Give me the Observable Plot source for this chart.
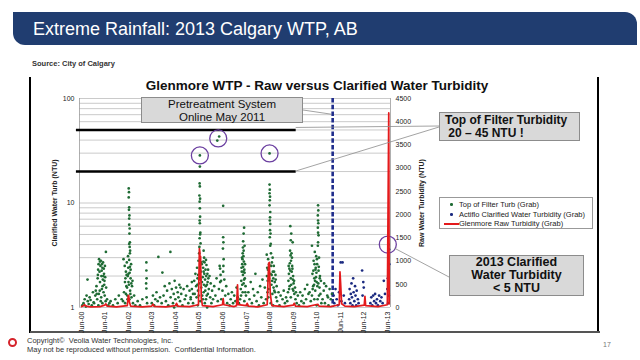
<!DOCTYPE html>
<html><head><meta charset="utf-8">
<script src="https://cdn.jsdelivr.net/npm/d3@7"></script>
<script src="https://cdn.jsdelivr.net/npm/@observablehq/plot@0.6"></script>
<style>
body{margin:0;background:#fff;font-family:"Liberation Sans",Arial,sans-serif;}
#slide{position:relative;width:640px;height:360px;overflow:hidden;background:#fff;}
.abs{position:absolute;}
#bar{left:13px;top:12px;width:624px;height:33px;background:#203d70;border-radius:0 12px 0 12px;}
#title{left:33px;top:16px;color:#fff;font-size:18px;line-height:26px;white-space:nowrap;}
#source{left:32px;top:59px;font-size:7.5px;font-weight:bold;color:#333;}
.frameV{width:2px;height:256px;top:77px;background:#000;}
#frameB{left:30px;top:331px;width:570px;height:1.5px;background:#555;}
#ctitle{left:101px;top:78px;width:432px;text-align:center;font-size:13.5px;font-weight:bold;color:#111;white-space:nowrap;}
.box{background:#d9d9d9;border:1px solid #8c8c8c;box-sizing:border-box;color:#111;}
#pre{left:141px;top:97px;width:162px;height:26px;font-size:11.5px;line-height:12.5px;text-align:center;padding-top:0px;}
#tof{left:439px;top:112px;width:141px;height:29px;font-size:12px;font-weight:bold;line-height:13px;padding:1px 0 0 5px;white-space:nowrap;}
#c13{left:449px;top:255px;width:135px;height:41px;font-size:12.5px;font-weight:bold;line-height:13.2px;text-align:center;padding-top:0px;}
#legend{left:439px;top:197px;width:154px;height:32px;background:#fff;border:1px solid #999;box-sizing:border-box;font-size:7.5px;color:#222;}
.lrow{position:absolute;left:19px;white-space:nowrap;}
.ldot{position:absolute;width:2.6px;height:2.6px;border-radius:50%;left:10px;}
#foot{left:27px;top:337px;font-size:7.5px;line-height:8.5px;color:#333;}
#page{left:603px;top:341px;font-size:7px;color:#777;}
#logo{left:8px;top:338px;width:5px;height:5px;border:2px solid #d5232b;border-radius:50%;}
.plotwrap{position:absolute;left:30px;top:77px;width:568px;height:256px;}
.plotwrap svg{overflow:visible;}
svg [aria-label="y-axis label"] text{font-weight:bold;}
</style>
</head><body>
<div id="slide">
  <div id="bar" class="abs"></div>
  <div id="title" class="abs">Extreme Rainfall: 2013 Calgary WTP, AB</div>
  <div id="source" class="abs">Source: City of Calgary</div>
  <div class="abs frameV" style="left:29px"></div>
  <div class="abs frameV" style="left:597px"></div>
  <div id="frameB" class="abs"></div>
  <div id="ctitle" class="abs">Glenmore WTP - Raw versus Clarified Water Turbidity</div>
  <div id="p1" class="plotwrap"></div>
  <div id="p2" class="plotwrap"></div>
  <svg id="ann" class="abs" style="left:0;top:0" width="640" height="360"></svg>
  <div id="pre" class="abs box">Pretreatment System<br>Online May 2011</div>
  <div id="tof" class="abs box">Top of Filter Turbidity<br>&nbsp;20 – 45 NTU !</div>
  <div id="legend" class="abs">
    <div class="ldot" style="top:5px;background:#1f6b34"></div><div class="lrow" style="top:1.5px">Top of Filter Turb (Grab)</div>
    <div class="ldot" style="top:15px;background:#1b2a80"></div><div class="lrow" style="top:11.5px">Actiflo Clarified Water Turbidity (Grab)</div>
    <div style="position:absolute;left:4px;top:25px;width:15px;height:1.6px;background:#e41a1c"></div><div class="lrow" style="top:21px">Glenmore Raw Turbidity (Grab)</div>
  </div>
  <div id="c13" class="abs box">2013 Clarified<br>Water Turbidity<br>&lt; 5 NTU</div>
  <div id="logo" class="abs"></div>
  <div id="foot" class="abs">Copyright©&nbsp; Veolia Water Technologies, Inc.<br>May not be reproduced without permission.&nbsp; Confidential Information.</div>
  <div id="page" class="abs">17</div>
</div>
<script>
// ---- data (decimal year, value) ----
const xTickLabels = ["Jun-00","Jun-01","Jun-02","Jun-03","Jun-04","Jun-05","Jun-06","Jun-07","Jun-08","Jun-09","Jun-10","Jun-11","Jun-12","Jun-13"];
const tickYears = [2000,2001,2002,2003,2004,2005,2006,2007,2008,2009,2010,2011,2012,2013];
const leftTicks = [1,10,100];
const gridTicks = [1,2,3,4,5,6,7,8,9,10,20,30,40,50,60,70,80,90,100];
const rightTicks = [0,500,1000,1500,2000,2500,3000,3500,4000,4500];
const filterBand = [20,50];
const pretreatStart = 2011.08;

const topOfFilter = [
 [2000.45,1.05],[2000.5,1.1],[2000.55,1.2],[2000.6,1.02],[2000.63,1.3],[2000.67,1.85],[2000.68,1.15],[2000.72,1.08],[2000.76,1.25],[2000.8,1.18],[2000.85,1.05],[2000.9,1.4],[2000.93,1.12],
 [2000.95,1.1],[2001.0,1.3],[2001.02,1.45],[2001.05,1.6],[2001.08,1.2],[2001.1,1.9],[2001.12,2.3],[2001.14,2.6],[2001.15,1.35],[2001.16,2.9],[2001.18,2.2],[2001.2,1.75],[2001.2,2.75],[2001.22,2.5],[2001.24,2.8],[2001.25,1.25],[2001.26,2.0],[2001.28,1.5],[2001.28,2.6],[2001.3,2.4],[2001.3,1.1],[2001.32,1.85],[2001.33,2.7],[2001.35,1.4],[2001.36,2.35],[2001.37,2.1],[2001.38,1.65],[2001.4,1.3],[2001.42,1.95],[2001.44,1.15],[2001.45,3.4],[2001.46,1.55],[2001.5,1.2],[2001.55,1.05],[2001.6,1.1],
 [2001.11,2.05],[2001.19,1.45],[2001.23,1.15],[2001.27,2.25],[2001.31,1.6],[2001.34,2.0],[2001.39,1.8],[2001.41,2.5],[2001.13,1.05],[2001.06,1.35],
 [2001.65,1.15],[2001.75,1.05],[2001.85,1.2],[2001.95,1.1],[2002.0,1.3],
 [2002.42,13.8],[2002.43,12.7],[2002.42,11.3],[2002.44,9.1],[2002.43,8.6],[2002.45,7.6],[2002.44,7.1],[2002.44,6.2],[2002.46,5.7],[2002.45,5.1],[2002.47,4.2],[2002.44,4.05],[2002.46,3.8],[2002.48,3.5],[2002.47,3.3],
 [2002.2,2.9],[2002.25,2.5],[2002.28,1.9],[2002.3,2.2],[2002.32,1.6],[2002.34,2.7],[2002.36,1.3],[2002.38,2.0],[2002.39,3.1],[2002.4,2.4],[2002.41,1.75],[2002.44,2.85],[2002.46,2.15],[2002.48,1.45],[2002.5,1.9],[2002.5,2.3],[2002.52,2.6],[2002.54,1.25],[2002.56,1.6],[2002.58,1.8],[2002.18,1.15],[2002.22,1.4],[2002.27,1.1],[2002.3,1.35],[2002.35,1.55],[2002.45,1.2],[2002.6,1.1],[2002.65,1.3],[2002.7,1.05],[2002.12,1.2],
 [2002.41,2.1],[2002.43,1.65],[2002.47,2.45],[2002.33,2.05],[2002.37,1.2],[2002.49,1.35],[2002.53,1.7],[2002.26,1.75],
 [2002.8,1.15],[2002.9,1.05],[2003.0,1.2],
 [2003.17,2.7],[2003.17,2.26],[2003.18,1.9],[2003.16,1.7],[2003.17,1.52],[2003.18,1.25],[2003.2,1.1],
 [2003.4,1.1],[2003.45,1.3],[2003.5,1.05],[2003.55,1.2],[2003.6,1.4],[2003.65,1.15],[2003.68,3.05],[2003.75,1.25],[2003.85,2.16],[2003.82,1.1],
 [2003.9,1.3],[2003.95,1.6],[2004.0,1.15],[2004.05,1.45],[2004.1,1.05],[2004.15,1.7],[2004.19,3.4],[2004.2,1.25],[2004.25,1.5],[2004.3,1.1],[2004.33,1.35],[2004.35,1.0],[2004.37,1.8],[2004.4,1.2],[2004.43,1.55],[2004.47,1.05],[2004.5,1.4],[2004.53,1.25],[2004.57,1.65],[2004.6,1.15],[2004.62,1.55],[2004.65,1.35],[2004.7,1.05],[2004.75,1.5],[2004.8,1.2],[2004.85,1.3],[2004.9,1.6],[2004.95,1.1],[2005.0,1.45],[2005.05,1.25],[2005.1,1.75],[2005.15,1.35],
 [2005.44,28.5],[2005.44,22.3],[2005.43,15.4],[2005.44,14.4],[2005.42,11.8],[2005.45,11.0],[2005.43,10.3],[2005.44,8.9],[2005.45,7.4],[2005.43,6.8],[2005.44,6.4],[2005.46,5.2],[2005.45,5.0],[2005.43,4.6],[2005.47,4.1],[2005.42,3.8],
 [2005.05,1.2],[2005.1,1.5],[2005.15,1.1],[2005.2,1.8],[2005.22,1.35],[2005.25,2.1],[2005.28,1.6],[2005.3,1.25],[2005.32,2.4],[2005.34,1.9],[2005.35,1.05],[2005.36,1.45],[2005.38,2.8],[2005.4,1.7],[2005.41,3.3],[2005.46,1.15],[2005.48,2.2],[2005.5,1.55],[2005.52,2.6],[2005.54,1.3],[2005.56,1.95],[2005.58,2.4],[2005.6,1.4],[2005.6,2.2],[2005.6,3.5],[2005.62,3.0],[2005.64,2.7],[2005.65,1.1],[2005.66,1.85],[2005.68,2.3],[2005.7,1.2],[2005.7,2.85],[2005.72,2.55],[2005.74,1.65],[2005.75,1.0],[2005.76,2.1],[2005.78,1.35],[2005.8,1.9],[2005.82,1.5],[2005.85,2.0],[2005.88,1.25],[2005.9,1.7],[2005.93,1.1],[2005.96,1.45],[2006.0,1.2],
 [2005.33,1.65],[2005.37,2.05],[2005.39,1.3],[2005.47,1.85],[2005.49,2.7],[2005.53,1.75],[2005.57,1.2],[2005.59,2.75],[2005.61,1.65],[2005.63,2.1],[2005.67,1.45],[2005.69,1.6],[2005.71,2.0],[2005.73,1.3],[2005.77,1.75],[2005.79,2.3],
 [2006.18,39.6],[2006.26,43.3],
 [2006.43,9.4],[2006.43,4.7],[2006.44,4.2],[2006.42,3.66],[2006.45,2.9],[2006.44,2.5],[2006.43,2.2],
 [2006.28,2.5],[2006.3,2.36],[2006.32,2.05],[2006.34,1.8],
 [2006.05,1.6],[2006.1,1.3],[2006.15,1.9],[2006.2,1.15],[2006.25,1.5],[2006.3,1.75],[2006.35,1.2],[2006.4,1.45],[2006.48,1.85],[2006.52,1.3],[2006.56,1.6],[2006.6,1.1],[2006.65,1.35],[2006.7,1.05],
 [2006.75,1.2],[2006.8,1.4],[2006.85,1.1],[2006.9,1.3],[2006.95,1.15],[2007.0,1.55],[2007.05,1.25],
 [2007.32,5.8],[2007.3,5.1],[2007.28,4.3],[2007.27,3.75],[2007.3,3.5],[2007.26,3.3],[2007.29,3.1],[2007.25,2.9],[2007.31,2.75],[2007.24,2.6],[2007.28,2.45],[2007.33,2.3],[2007.22,2.2],[2007.27,2.05],[2007.35,1.9],[2007.2,1.8],[2007.3,1.7],[2007.38,1.6],[2007.18,1.5],[2007.26,1.4],[2007.4,1.3],[2007.15,1.2],[2007.33,1.15],[2007.45,1.05],[2007.1,1.1],[2007.36,2.6],[2007.23,3.0],[2007.34,3.9],
 [2007.21,2.4],[2007.24,1.65],[2007.29,2.2],[2007.32,1.85],[2007.34,2.15],[2007.37,1.4],[2007.19,1.3],
 [2007.5,1.4],[2007.55,1.2],[2007.6,1.75],[2007.65,1.1],[2007.7,1.5],[2007.75,1.3],[2007.8,2.1],[2007.85,1.15],[2007.9,1.4],[2007.95,1.05],[2008.0,1.6],[2008.05,1.25],[2008.1,1.85],
 [2008.4,29.8],
 [2008.4,15.0],[2008.41,13.4],[2008.4,12.4],[2008.42,11.5],[2008.41,10.6],[2008.4,9.5],[2008.43,8.2],[2008.42,7.3],[2008.41,6.8],[2008.43,6.3],[2008.42,5.5],[2008.44,5.1],[2008.41,4.7],[2008.45,4.07],[2008.43,3.9],
 [2008.28,3.2],[2008.3,2.4],[2008.32,1.8],[2008.34,2.9],[2008.36,1.5],[2008.38,2.6],[2008.44,2.1],[2008.46,3.3],[2008.48,1.65],[2008.5,2.7],[2008.52,1.35],[2008.54,2.2],[2008.56,1.9],[2008.58,2.5],[2008.6,1.45],[2008.62,1.75],[2008.65,2.05],[2008.68,1.25],[2008.7,1.6],[2008.25,1.2],[2008.2,1.55],[2008.15,1.1],[2008.72,1.15],[2008.78,1.4],[2008.82,1.05],[2008.87,1.3],[2008.45,1.1],[2008.35,1.25],[2008.55,1.05],
 [2008.29,2.0],[2008.33,2.3],[2008.37,1.9],[2008.47,2.5],[2008.49,2.05],[2008.51,1.8],[2008.53,3.0],[2008.57,1.55],[2008.59,2.2],[2008.63,1.4],[2008.66,1.85],[2008.31,1.4],
 [2009.28,6.0],[2009.32,5.1],[2009.3,4.4],[2009.38,4.2],[2009.27,3.5],[2009.33,3.3],[2009.29,3.15],[2009.35,3.0],[2009.31,2.8],[2009.26,2.65],[2009.36,2.5],[2009.24,2.35],[2009.34,2.2],[2009.22,2.1],[2009.4,2.0],[2009.3,1.9],[2009.2,1.8],[2009.42,1.7],[2009.25,1.6],[2009.38,1.5],[2009.18,1.4],[2009.45,1.35],[2009.3,1.25],[2009.5,1.2],[2009.15,1.15],[2009.55,1.1],[2009.6,1.3],[2009.65,1.05],[2009.7,1.4],[2009.75,1.15],[2009.1,1.25],[2009.05,1.1],[2009.0,1.45],[2008.95,1.2],
 [2009.21,2.5],[2009.23,1.5],[2009.28,2.25],[2009.32,1.65],[2009.37,2.35],[2009.39,1.85],[2009.41,1.45],[2009.44,1.8],[2009.48,1.55],[2009.52,1.4],
 [2009.8,1.3],[2009.85,1.1],[2009.9,1.5],[2009.95,1.2],[2010.0,1.65],[2010.05,1.35],
 [2010.46,9.5],[2010.47,8.5],[2010.45,7.6],[2010.46,6.8],[2010.47,6.4],[2010.45,5.8],[2010.46,5.2],[2010.48,4.9],[2010.46,4.2],[2010.45,3.9],[2010.2,3.9],
 [2010.2,1.3],[2010.22,2.1],[2010.25,1.6],[2010.27,2.8],[2010.3,1.9],[2010.32,3.4],[2010.34,1.45],[2010.35,2.3],[2010.36,2.4],[2010.38,3.1],[2010.4,1.75],[2010.42,2.6],[2010.44,1.2],[2010.48,2.25],[2010.5,3.0],[2010.52,1.55],[2010.54,2.0],[2010.56,1.35],[2010.58,1.8],[2010.6,1.1],[2010.15,1.15],[2010.1,1.4],[2010.4,1.05],[2010.3,1.2],[2010.5,1.3],
 [2010.23,1.5],[2010.26,2.25],[2010.29,1.65],[2010.31,2.6],[2010.33,1.8],[2010.37,1.95],[2010.39,2.15],[2010.41,2.9],[2010.43,1.6],[2010.47,1.7],[2010.49,2.45],[2010.53,1.9],
 [2010.65,1.2],[2010.7,1.45],[2010.72,1.7],[2010.75,1.1],[2010.8,1.6],[2010.85,1.3],[2010.88,1.25],[2010.9,1.05],[2010.95,1.5],[2011.0,1.2],[2011.05,1.35]
];

const actiflo = [
 [2011.12,1.3],[2011.15,1.1],[2011.2,1.5],[2011.25,1.2],[2011.3,1.05],[2011.35,1.4],[2011.42,2.7],[2011.5,2.7],[2011.45,1.15],[2011.55,1.3],[2011.6,1.1],
 [2011.78,1.2],[2011.8,1.5],[2011.83,1.1],[2011.85,1.35],[2011.88,1.7],[2011.9,1.25],[2011.92,1.05],[2011.95,1.9],[2011.97,1.4],[2012.0,1.15],[2012.03,1.6],[2012.05,1.3],[2012.08,1.05],[2012.1,1.45],[2012.15,1.2],[2012.18,1.1],
 [2012.33,2.26],[2012.38,1.75],[2012.4,1.55],[2012.35,1.3],
 [2012.68,1.1],[2012.72,1.25],[2012.76,1.05],[2012.8,1.3],[2012.84,1.15],[2012.88,1.35],[2012.92,1.1],[2012.96,1.2],[2013.0,1.05],[2013.05,1.3],[2013.1,1.15],[2013.15,1.25],[2013.2,1.1],[2013.25,1.8],[2013.3,1.35],
 [2013.4,1.5],[2013.42,1.9],[2013.44,2.3],[2013.46,1.3],[2013.48,2.6],[2013.45,4.0],[2013.47,3.6],[2013.43,1.1]
];

const raw = [
 [2000.42,20],[2000.5,40],[2000.55,60],[2000.6,30],[2000.8,15],[2001.2,20],[2001.4,50],[2001.45,80],[2001.5,30],[2001.9,15],
 [2002.36,40],[2002.4,250],[2002.42,260],[2002.45,120],[2002.5,30],[2003.0,15],[2003.4,30],[2003.45,70],[2003.5,25],[2004.0,15],
 [2004.4,40],[2004.45,90],[2004.5,30],[2005.0,20],[2005.38,60],[2005.42,1270],[2005.44,1200],[2005.455,600],[2005.47,1100],[2005.5,200],[2005.55,40],
 [2006.0,20],[2006.4,60],[2006.43,190],[2006.46,60],[2006.9,20],[2007.0,40],[2007.04,490],[2007.07,60],[2007.4,40],[2007.45,90],[2007.5,30],[2007.9,15],
 [2008.3,60],[2008.36,950],[2008.39,970],[2008.43,300],[2008.5,40],[2009.0,20],[2009.4,50],[2009.45,90],[2009.5,30],[2010.0,20],[2010.45,70],[2010.5,30],
 [2011.0,20],[2011.36,60],[2011.39,770],[2011.42,500],[2011.46,80],[2011.6,30],[2012.0,20],[2012.42,50],[2012.45,240],[2012.48,40],
 [2013.0,20],[2013.4,60],[2013.46,4190],[2013.48,80]
];

const circled = [[2005.44,28.5],[2006.22,41.5],[2008.4,29.8],[2013.42,4.0]];

// ---- helpers ----
const toDate = t => { const y = Math.floor(t); const a = Date.UTC(y,0,1), b = Date.UTC(y+1,0,1); return new Date(a + (t - y) * (b - a)); };
const tickDates = tickYears.map(y => new Date(Date.UTC(y,5,1)));
const xDomain = [new Date(Date.UTC(2000,4,1)), new Date(Date.UTC(2013,6,15))];
const bandX1 = toDate(2000.2), bandX2 = toDate(2009.53);
const font = "'Liberation Sans', Arial, sans-serif";
const common = {width:568, height:256, marginLeft:49, marginRight:208, marginTop:21, marginBottom:26,
  style:{background:"transparent", fontFamily:font, fontSize:"7px", color:"#222", overflow:"visible"}};

const p1 = Plot.plot({
  ...common,
  x:{type:"utc", domain:xDomain},
  y:{type:"log", domain:[1,100]},
  marks:[
    Plot.gridY(gridTicks, {stroke:"#bdbdbd", strokeOpacity:1, strokeWidth:0.8}),
    Plot.ruleX([xDomain[0], xDomain[1]], {stroke:"#9a9a9a", strokeWidth:0.8}),
    Plot.axisY({ticks:leftTicks, tickSize:0, tickPadding:5, tickFormat:d => String(d), fontSize:7,
      label:"Clarified Water Turb (NTU)", labelAnchor:"center", labelOffset:27, labelArrow:"none"}),
    Plot.axisX({ticks:tickDates, tickFormat:(d,i) => xTickLabels[i], tickRotate:-90, tickSize:0, tickPadding:4, fontSize:7, label:null}),
    Plot.ruleY(filterBand, {y:d => d, x1:bandX1, x2:bandX2, stroke:"#000", strokeWidth:2.6}),
    Plot.ruleX([toDate(pretreatStart)], {stroke:"#1f2d8c", strokeWidth:2.6, strokeDasharray:"4.5,2.2"}),
    Plot.dot(topOfFilter, {x:d => toDate(d[0]), y:d => d[1], r:1.35, fill:"#1f6b34"}),
    Plot.dot(actiflo, {x:d => toDate(d[0]), y:d => d[1], r:1.35, fill:"#1b2a80"}),
    Plot.dot(circled, {x:d => toDate(d[0]), y:d => d[1], r:8.5, stroke:"#6b3fa0", strokeWidth:1.3, fill:"none"})
  ]
});
document.getElementById("p1").append(p1);

const p2 = Plot.plot({
  ...common,
  x:{type:"utc", domain:xDomain, axis:null},
  y:{domain:[0,4500]},
  marks:[
    Plot.axisY({anchor:"right", ticks:rightTicks, tickSize:0, tickPadding:5, fontSize:7, tickFormat:d => String(d),
      label:"Raw Water Turbidity (NTU)", labelAnchor:"center", labelOffset:33, labelArrow:"none"}),
    Plot.line(raw, {x:d => toDate(d[0]), y:d => d[1], stroke:"#e41a1c", strokeWidth:1.7})
  ]
});
document.getElementById("p2").append(p2);

// ---- connector lines (annotation), positions from the plot scales ----
const sx = p1.scale("x"), sy = p1.scale("y");
const ox = 30, oy = 77;
const X = t => sx.apply(toDate(t)) + ox;
const Xd = d => sx.apply(d) + ox;
const Y = v => sy.apply(v) + oy;
const conn = [
  [303, 110, X(pretreatStart) - 1, Y(70)],
  [Xd(bandX2), Y(filterBand[1]) - 2, 439, 126],
  [Xd(bandX2), Y(filterBand[0]), 439, 127],
  [X(circled[3][0]) + 7, Y(circled[3][1]) + 4, 449, 277]
];
const ann = d3.select("#ann");
ann.selectAll("line").data(conn).join("line")
  .attr("x1", d => d[0]).attr("y1", d => d[1]).attr("x2", d => d[2]).attr("y2", d => d[3])
  .attr("stroke", "#8c8c8c").attr("stroke-width", 0.8);
</script>
</body></html>
